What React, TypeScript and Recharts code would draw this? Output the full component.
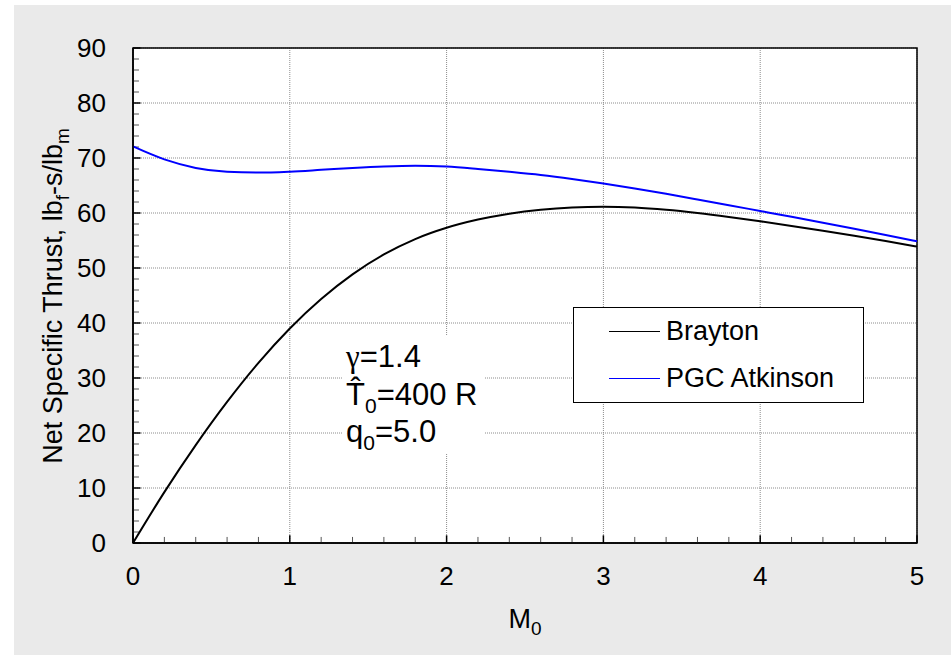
import {
  LineChart,
  Line,
  XAxis,
  YAxis,
  CartesianGrid,
  ReferenceLine,
  ReferenceArea,
} from "recharts";

// values, every 0.2 in M0
const MACH = [0, 0.2, 0.4, 0.6, 0.8, 1.0, 1.2, 1.4, 1.6, 1.8, 2.0, 2.2, 2.4, 2.6, 2.8, 3.0, 3.2, 3.4, 3.6, 3.8, 4.0, 4.2, 4.4, 4.6, 4.8, 5.0];
const BRAYTON = [0, 9.25, 17.8, 25.65, 32.75, 39.0, 44.36, 48.84, 52.46, 55.26, 57.31, 58.8, 59.88, 60.6, 61.01, 61.14, 60.99, 60.58, 59.99, 59.28, 58.49, 57.65, 56.77, 55.85, 54.89, 53.89];
const PGC_ATKINSON = [72.1, 69.75, 68.2, 67.5, 67.35, 67.52, 67.85, 68.2, 68.47, 68.6, 68.45, 68.02, 67.5, 66.92, 66.2, 65.38, 64.46, 63.48, 62.46, 61.42, 60.36, 59.3, 58.22, 57.12, 56.0, 54.86];

const X_TICKS = [0, 1, 2, 3, 4, 5];
const Y_TICKS = [0, 10, 20, 30, 40, 50, 60, 70, 80, 90];

const SERIES = [
  { key: "brayton", label: "Brayton", color: "#000000" },
  { key: "atkinson", label: "PGC Atkinson", color: "#0000FF" },
];

const data = MACH.map((m, i) => ({ m, brayton: BRAYTON[i], atkinson: PGC_ATKINSON[i] }));

// 4 minor ticks between each pair of major ticks
const minorTicks = (major: number[], parts: number) => {
  const out: number[] = [];
  for (let i = 0; i < major.length - 1; i++) {
    const step = (major[i + 1] - major[i]) / parts;
    for (let k = 1; k < parts; k++) out.push(+(major[i] + k * step).toFixed(4));
  }
  return out;
};
const X_MINOR = minorTicks(X_TICKS, 5);
const Y_MINOR = minorTicks(Y_TICKS, 5);

const FONT = "'Liberation Sans', Arial, sans-serif";

const YTitle = () => (
  <text
    x={62}
    y={296}
    transform="rotate(-90 62 296)"
    textAnchor="middle"
    fontFamily={FONT}
    fontSize={27}
    fill="#000"
  >
    Net Specific Thrust, lb
    <tspan fontSize={19} dy={7}>f</tspan>
    <tspan dy={-7}>-s/lb</tspan>
    <tspan fontSize={19} dy={7}>m</tspan>
  </text>
);

const XTitle = () => (
  <text x={525} y={628} textAnchor="middle" fontFamily={FONT} fontSize={27} fill="#000">
    M<tspan fontSize={19} dy={7}>0</tspan>
  </text>
);

const sub = { fontSize: 21, position: "relative" as const, top: 8, lineHeight: 0 };

export default function App() {
  return (
    <div style={{ position: "absolute", left: 0, top: 0, width: 951, height: 655, background: "#fff", fontFamily: FONT }}>
      <div style={{ position: "absolute", left: 14, top: 5, right: 0, bottom: 0, background: "#eaeaea" }} />

      <LineChart
        width={951}
        height={655}
        data={data}
        margin={{ top: 48, right: 34, bottom: 72, left: 73 }}
        style={{ position: "absolute", left: 0, top: 0 }}
      >
        <CartesianGrid stroke="#8c8c8c" strokeDasharray="1 1" fill="#ffffff" fillOpacity={1} />
        <XAxis
          dataKey="m"
          type="number"
          domain={[0, 5]}
          ticks={X_TICKS}
          height={40}
          axisLine={{ stroke: "#000", strokeWidth: 1.5 }}
          tickLine={false}
          tickSize={0}
          tickMargin={24}
          tick={{ fontSize: 26, fill: "#000", fontFamily: FONT }}
          label={<XTitle />}
        />
        <YAxis
          type="number"
          domain={[0, 90]}
          ticks={Y_TICKS}
          width={60}
          axisLine={{ stroke: "#000", strokeWidth: 1.5 }}
          tickLine={false}
          tickSize={0}
          tickMargin={27}
          tick={{ fontSize: 26, fill: "#000", fontFamily: FONT }}
          label={<YTitle />}
        />

        {X_MINOR.map((v) => (
          <ReferenceLine key={`xm${v}`} segment={[{ x: v, y: 0 }, { x: v, y: 1.1 }]} stroke="#555" strokeWidth={1} />
        ))}
        {X_TICKS.map((v) => (
          <ReferenceLine key={`xM${v}`} segment={[{ x: v, y: 0 }, { x: v, y: 1.4 }]} stroke="#000" strokeWidth={1.5} />
        ))}
        {Y_MINOR.map((v) => (
          <ReferenceLine key={`ym${v}`} segment={[{ x: 0, y: v }, { x: 0.038, y: v }]} stroke="#555" strokeWidth={1} />
        ))}
        {Y_TICKS.map((v) => (
          <ReferenceLine key={`yM${v}`} segment={[{ x: 0, y: v }, { x: 0.048, y: v }]} stroke="#000" strokeWidth={1.5} />
        ))}

        <ReferenceArea x1={0} x2={5} y1={0} y2={90} fill="none" stroke="#000" strokeWidth={1.5} />

        {SERIES.map((s) => (
          <Line
            key={s.key}
            type="monotone"
            dataKey={s.key}
            name={s.label}
            stroke={s.color}
            strokeWidth={2}
            dot={false}
            activeDot={false}
            isAnimationActive={false}
          />
        ))}
      </LineChart>

      {/* parameter note */}
      <div
        style={{
          position: "absolute",
          left: 343,
          top: 335,
          width: 141,
          height: 118,
          background: "#fff",
          boxSizing: "border-box",
          paddingTop: 3,
          paddingLeft: 3,
          fontSize: 31,
          lineHeight: "37.5px",
          color: "#000",
          whiteSpace: "nowrap",
        }}
      >
        <div>
          <span style={{ fontFamily: "'Liberation Serif', serif" }}>γ</span>=1.4
        </div>
        <div>
          T&#x0302;<span style={sub}>0</span>=400 R
        </div>
        <div>
          q<span style={sub}>0</span>=5.0
        </div>
      </div>

      {/* legend */}
      <div
        style={{
          position: "absolute",
          left: 573,
          top: 307,
          width: 291,
          height: 96,
          background: "#fff",
          border: "1.5px solid #000",
          boxSizing: "border-box",
        }}
      >
        {SERIES.map((s, i) => (
          <div key={s.key} style={{ position: "absolute", left: 0, top: 6 + i * 47, height: 34, width: "100%" }}>
            <span
              style={{
                position: "absolute",
                left: 35,
                top: 17,
                width: 51,
                height: 0,
                borderTop: `1.5px solid ${s.color}`,
              }}
            />
            <span style={{ position: "absolute", left: 92, top: 0, fontSize: 27, lineHeight: "34px", whiteSpace: "nowrap" }}>
              {s.label}
            </span>
          </div>
        ))}
      </div>
    </div>
  );
}
